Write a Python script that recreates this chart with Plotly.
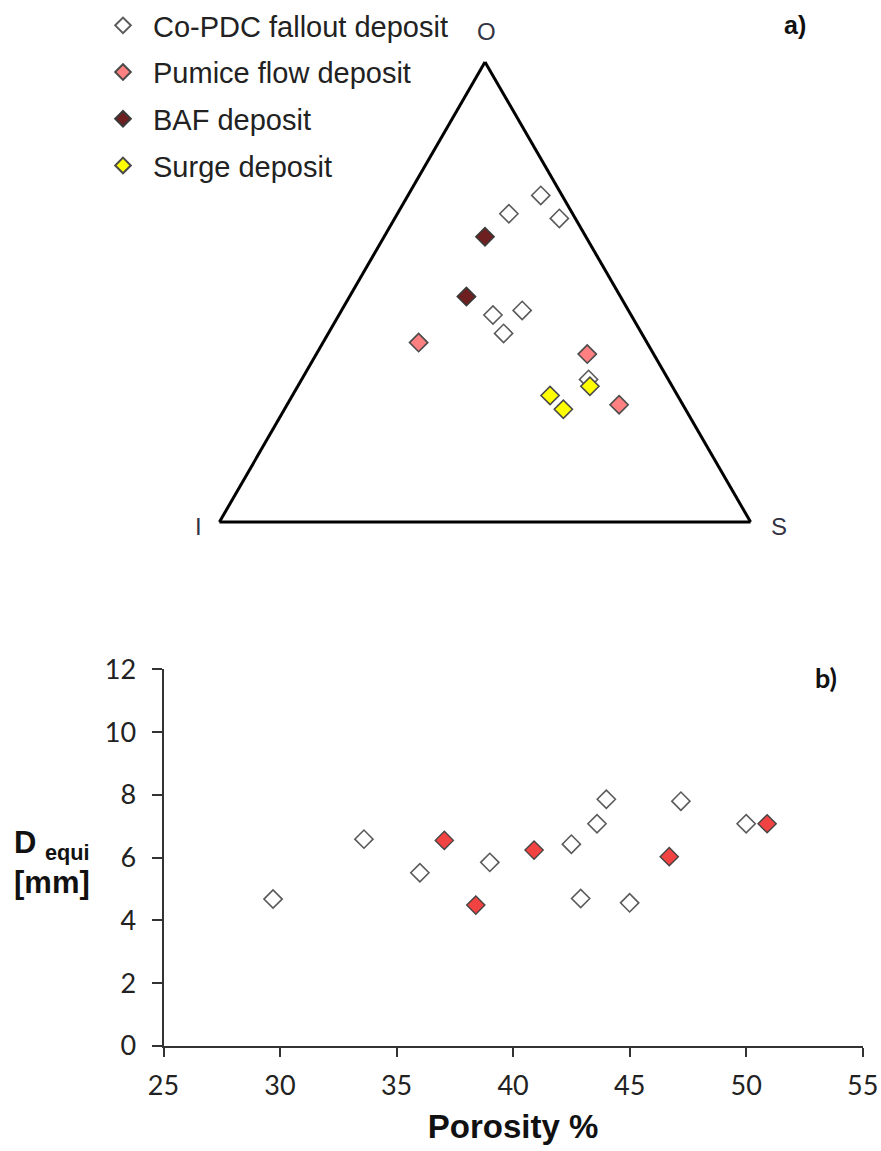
import plotly.graph_objects as go

# ---- Ternary data (percent): O (top), I (bottom-left), S (bottom-right)
copdc_O = [71, 67, 66, 45, 46, 41, 31]
copdc_I = [4, 12, 3, 26, 20, 26, 15]
copdc_S = [25, 21, 31, 29, 34, 33, 54]

pumice_O = [39, 36.5, 25.5]
pumice_I = [43, 12.5, 12]
pumice_S = [18, 51, 62.5]

baf_O = [62, 49]
baf_I = [19, 29]
baf_S = [19, 22]

surge_O = [27.5, 24.5, 29.5]
surge_I = [24, 23, 15.5]
surge_S = [48.5, 52.5, 55]

# ---- Porosity vs D_equi
copdc_por = [29.7, 33.6, 36.0, 39.0, 42.5, 43.6, 44.0, 42.9, 45.0, 47.2, 50.0]
copdc_deq = [4.68, 6.59, 5.52, 5.85, 6.43, 7.08, 7.86, 4.70, 4.56, 7.80, 7.08]
pumice_por = [37.05, 38.4, 40.9, 46.7, 50.9]
pumice_deq = [6.55, 4.49, 6.24, 6.03, 7.08]

legend_names = ["Co-PDC fallout deposit", "Pumice flow deposit", "BAF deposit", "Surge deposit"]
x_ticks = [25, 30, 35, 40, 45, 50, 55]
y_ticks = [0, 2, 4, 6, 8, 10, 12]

W, H = 881, 1151
MS = 14

fig = go.Figure()

def tern(name, a, b, c, fill, line, grp):
    fig.add_trace(go.Scatterternary(
        a=a, b=b, c=c, mode="markers", name=name, legendgroup=grp,
        marker=dict(symbol="diamond", size=MS, color=fill,
                    line=dict(color=line, width=1.6)),
        subplot="ternary"))

tern(legend_names[0], copdc_O, copdc_I, copdc_S, "white", "#5a5a5a", "g1")
tern(legend_names[1], pumice_O, pumice_I, pumice_S, "#FF8080", "#4a4a4a", "g2")
tern(legend_names[2], baf_O, baf_I, baf_S, "#6E1F1F", "#3a3a3a", "g3")
tern(legend_names[3], surge_O, surge_I, surge_S, "#FFFF00", "#4a4a4a", "g4")

fig.add_trace(go.Scatter(x=copdc_por, y=copdc_deq, mode="markers", showlegend=False,
                         legendgroup="g1",
                         marker=dict(symbol="diamond", size=MS, color="white",
                                     line=dict(color="#5a5a5a", width=1.6))))
fig.add_trace(go.Scatter(x=pumice_por, y=pumice_deq, mode="markers", showlegend=False,
                         legendgroup="g2",
                         marker=dict(symbol="diamond", size=MS, color="#F24343",
                                     line=dict(color="#444444", width=1.4))))

axis_t = dict(showline=True, linecolor="black", linewidth=3, showgrid=False,
              showticklabels=False, ticks="", title=dict(text=""))

fig.update_layout(
    width=W, height=H, margin=dict(l=0, r=0, t=0, b=0),
    template="none",
    paper_bgcolor="white", plot_bgcolor="white",
    ternary=dict(
        domain=dict(x=[185 / W, 785 / W], y=[1 - 522 / H, 1 - 62 / H]),
        sum=100, bgcolor="white",
        aaxis=axis_t, baxis=axis_t, caxis=axis_t,
    ),
    xaxis=dict(domain=[163.5 / W, 862.7 / W], range=[25, 55], tickvals=x_ticks,
               showgrid=False, zeroline=False, showline=True, linecolor="#333333",
               linewidth=2, ticks="outside", ticklen=9, tickwidth=1.5, tickcolor="#333333",
               tickfont=dict(family="Lato, Open Sans, sans-serif", size=27, color="#222222"),
               ticklabelstandoff=6,
               title=dict(text="<b>Porosity %</b>", standoff=14,
                          font=dict(family="Liberation Sans, Arial", size=33, color="#111111"))),
    yaxis=dict(domain=[1 - 1046 / H, 1 - 669.3 / H], range=[0, 12], tickvals=y_ticks,
               showgrid=False, zeroline=False, showline=True, linecolor="#333333",
               linewidth=2, ticks="outside", ticklen=10, tickwidth=1.5, tickcolor="#333333",
               tickfont=dict(family="Lato, Open Sans, sans-serif", size=27, color="#222222"),
               ticklabelstandoff=10),
    legend=dict(x=93 / W, y=1, xanchor="left", yanchor="top",
                font=dict(family="Liberation Sans, Arial", size=29, color="#222222"),
                bgcolor="rgba(0,0,0,0)", tracegroupgap=6, itemsizing="constant",
                itemwidth=50),
    showlegend=True,
)

ann_font = dict(family="Liberation Sans, Arial", size=24, color="#333344")
def ann(text, px, py, font):
    fig.add_annotation(text=text, x=px / W, y=1 - py / H, xref="paper", yref="paper",
                       xanchor="center", yanchor="middle", showarrow=False, font=font)

ann("O", 486, 32, ann_font)
ann("I", 220 - 22, 527, ann_font)
ann("S", 752 + 27, 527, ann_font)
ann("<b>a)</b>", 795, 25, dict(family="Liberation Sans, Arial", size=25, color="#111111"))
ann("<b>b)</b>", 826, 678, dict(family="Lato, Liberation Sans", size=27, color="#111111"))
fig.add_annotation(text="<b>D <sub>equi</sub><br>[mm]</b>", x=12 / W, y=1 - 862 / H,
                   xref="paper", yref="paper", xanchor="left", yanchor="middle", align="left",
                   showarrow=False,
                   font=dict(family="Liberation Sans, Arial", size=31, color="#111111"))

fig.write_html("out.html")
